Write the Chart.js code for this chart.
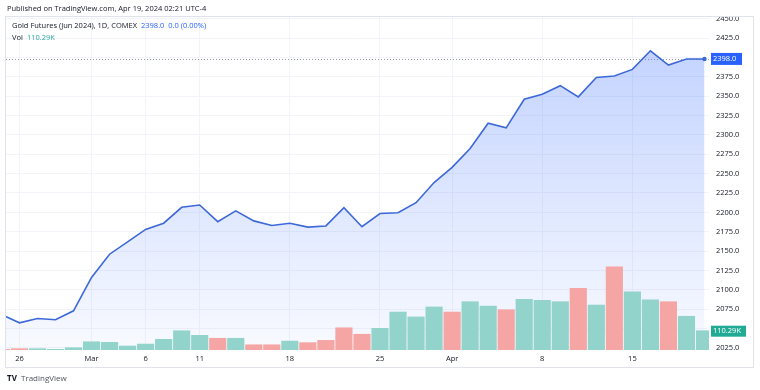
<!DOCTYPE html>
<html>
<head>
<meta charset="utf-8">
<title>Gold Futures (Jun 2024)</title>
<script src="https://cdn.jsdelivr.net/npm/chart.js@4.4.1/dist/chart.umd.min.js"></script>
<style>
  html, body { margin: 0; padding: 0; background: #fff; }
  #wrap { position: relative; width: 760px; height: 390px; }
</style>
</head>
<body>
<div id="wrap"><canvas id="gold-chart" width="760" height="390"></canvas></div>
<script>
// Daily bars, Feb 23 - Apr 19 2024 (COMEX closed on Good Friday, Mar 29)
const dates = ['Feb 23', 'Feb 26', 'Feb 27', 'Feb 28', 'Feb 29', 'Mar 1', 'Mar 4', 'Mar 5', 'Mar 6', 'Mar 7',
    'Mar 8', 'Mar 11', 'Mar 12', 'Mar 13', 'Mar 14', 'Mar 15', 'Mar 18', 'Mar 19', 'Mar 20', 'Mar 21',
    'Mar 22', 'Mar 25', 'Mar 26', 'Mar 27', 'Mar 28', 'Apr 1', 'Apr 2', 'Apr 3', 'Apr 4', 'Apr 5',
    'Apr 8', 'Apr 9', 'Apr 10', 'Apr 11', 'Apr 12', 'Apr 15', 'Apr 16', 'Apr 17', 'Apr 18', 'Apr 19'];
const closes = [2068, 2057.5, 2063, 2061.5, 2073, 2116, 2146, 2162, 2178, 2186,
    2206.5, 2209.5, 2188, 2202, 2189, 2183, 2186, 2181, 2182.5, 2206,
    2181.5, 2198.5, 2199.5, 2212.5, 2238.5, 2258, 2282.5, 2315, 2309, 2346,
    2352.5, 2363.5, 2349, 2374, 2376, 2384.5, 2408.5, 2390, 2398, 2398];
// volume in thousands of contracts
const volumes = [4, 7.5, 7.5, 4, 13, 47, 44, 23, 34, 61,
    110, 84, 67, 67, 30, 30, 51, 42, 55, 127,
    90, 124, 217, 189, 246, 217, 276, 251, 230, 290,
    284, 276, 353, 257, 476, 333, 286, 276, 193, 110.29];
// 1 = up bar (teal), 0 = down bar (red)
const volUp = [0, 0, 1, 1, 1, 1, 1, 1, 1, 1,
    1, 1, 0, 1, 0, 0, 1, 0, 0, 0,
    0, 1, 1, 1, 1, 0, 1, 1, 0, 1,
    1, 1, 0, 1, 0, 1, 1, 0, 1, 1];
const xTickIdx = [1, 5, 8, 11, 16, 21, 25, 30, 35];
const xTickLabels = ['26', 'Mar', '6', '11', '18', '25', 'Apr', '8', '15'];

const lastPrice = 2398.0;
const lastVol = '110.29K';

const FONT = '"Open Sans", "Liberation Sans", sans-serif';
const TEXT = '#131722';
const LINE = '#3d68d8';
const UP = '#92d3cb';
const DOWN = '#f4a5a4';

const pricePoints = closes.map((v, i) => ({ x: i, y: v }));
const volPoints = volumes.map((v, i) => ({ x: i, y: v }));

// extra drawing: header, legend, pane frame, last-price line and axis labels
const overlay = {
    id: 'overlay',
    beforeDatasetsDraw(chart) {
        const ctx = chart.ctx;
        const area = chart.chartArea;
        const y = Math.round(chart.scales.y.getPixelForValue(lastPrice)) + 0.5;
        ctx.save();
        ctx.strokeStyle = '#9598a1';
        ctx.lineWidth = 1;
        ctx.setLineDash([1, 2]);
        ctx.beginPath();
        ctx.moveTo(area.left, y);
        ctx.lineTo(area.right, y);
        ctx.stroke();
        ctx.restore();
    },
    afterDraw(chart) {
        const ctx = chart.ctx;
        const area = chart.chartArea;
        const ys = chart.scales.y;
        const yv = chart.scales.yv;
        ctx.save();

        // clip the axis above the pane
        ctx.fillStyle = '#fff';
        ctx.fillRect(area.right, 0, 760 - area.right, area.top);

        // pane frame
        ctx.strokeStyle = '#e0e3eb';
        ctx.lineWidth = 1;
        ctx.strokeRect(5.5, 16.5, 748, 351);

        // header
        ctx.textBaseline = 'middle';
        ctx.textAlign = 'left';
        ctx.font = '7.5px ' + FONT;
        ctx.fillStyle = TEXT;
        ctx.fillText('Published on TradingView.com, Apr 19, 2024 02:21 UTC-4', 7, 9);

        // legend
        ctx.font = '7.5px ' + FONT;
        let t = 'Gold Futures (Jun 2024), 1D, COMEX';
        ctx.fillStyle = TEXT;
        ctx.fillText(t, 12, 25.5);
        let x = 12 + ctx.measureText(t).width + 4;
        ctx.fillStyle = '#2962ff';
        ctx.fillText('2398.0  0.0 (0.00%)', x, 25.5);
        ctx.fillStyle = TEXT;
        ctx.fillText('Vol', 12, 37.5);
        ctx.fillStyle = '#26a69a';
        ctx.fillText(lastVol, 12 + ctx.measureText('Vol').width + 4, 37.5);

        // price label
        ctx.font = '7.5px ' + FONT;
        let py = ys.getPixelForValue(lastPrice);
        ctx.fillStyle = '#2962ff';
        ctx.fillRect(711, py - 6, 31, 12);
        ctx.fillStyle = '#fff';
        ctx.fillText(lastPrice.toFixed(1), 713, py);

        // volume label
        let vy = yv.getPixelForValue(volumes[volumes.length - 1]);
        ctx.fillStyle = '#22ab94';
        ctx.fillRect(711, vy - 5, 35, 11);
        ctx.fillStyle = '#fff';
        ctx.fillText(lastVol, 713, vy + 0.5);

        // the last close dot
        const meta = chart.getDatasetMeta(1);
        const pt = meta.data[meta.data.length - 1];
        ctx.fillStyle = LINE;
        ctx.beginPath();
        ctx.arc(pt.x, pt.y, 2.2, 0, Math.PI * 2);
        ctx.fill();

        // footer
        ctx.fillStyle = TEXT;
        ctx.font = 'bold 8px ' + FONT;
        ctx.fillText('TV', 7, 379);
        ctx.font = '8px ' + FONT;
        ctx.fillStyle = '#50535e';
        ctx.fillText('TradingView', 21, 379);
        ctx.restore();
    }
};

const ctx = document.getElementById('gold-chart').getContext('2d');
window.goldChart = new Chart(ctx, {
    data: {
        datasets: [{
            type: 'bar',
            label: 'Vol',
            data: volPoints,
            yAxisID: 'yv',
            backgroundColor: volUp.map(u => u ? UP : DOWN),
            borderWidth: 0,
            barThickness: 16.5,
            order: 2
        }, {
            type: 'line',
            label: 'Gold Futures',
            data: pricePoints,
            yAxisID: 'y',
            borderColor: LINE,
            borderWidth: 1.6,
            pointRadius: 0,
            tension: 0,
            fill: 'start',
            backgroundColor: function(context) {
                const area = context.chart.chartArea;
                if (!area) return 'rgba(41,98,255,0.1)';
                const g = context.chart.ctx.createLinearGradient(0, area.top, 0, area.bottom);
                g.addColorStop(0, 'rgba(41,98,255,0.30)');
                g.addColorStop(1, 'rgba(41,98,255,0.03)');
                return g;
            },
            order: 3
        }]
    },
    options: {
        responsive: false,
        animation: false,
        devicePixelRatio: 1,
        layout: { padding: { left: 6, top: 17, right: 7, bottom: 23 } },
        plugins: {
            legend: { display: false },
            tooltip: { enabled: false }
        },
        scales: {
            x: {
                type: 'linear',
                offset: false,
                min: 0.255,
                max: 39.25,
                afterBuildTicks: function(scale) {
                    scale.ticks = xTickIdx.map(v => ({ value: v }));
                },
                afterFit: function(scale) { scale.height = 17; },
                grid: { color: '#f2f4f9', drawTicks: false, offset: false },
                border: { display: false },
                ticks: {
                    autoSkip: false,
                    maxRotation: 0,
                    padding: 4,
                    color: TEXT,
                    font: { family: FONT, size: 7.5 },
                    callback: function(value) {
                        const k = xTickIdx.indexOf(value);
                        return k >= 0 ? xTickLabels[k] : '';
                    }
                }
            },
            y: {
                position: 'right',
                min: 2022.4,
                max: 2452.1,
                afterFit: function(scale) { scale.width = 44; },
                grid: { color: '#f2f4f9', drawTicks: false },
                border: { display: false },
                ticks: {
                    stepSize: 25,
                    includeBounds: false,
                    padding: 7,
                    color: TEXT,
                    font: { family: FONT, size: 7.5 },
                    callback: v => v.toFixed(1)
                }
            },
            yv: {
                display: false,
                min: 0,
                max: 1903
            }
        }
    },
    plugins: [overlay]
});
</script>
</body>
</html>
